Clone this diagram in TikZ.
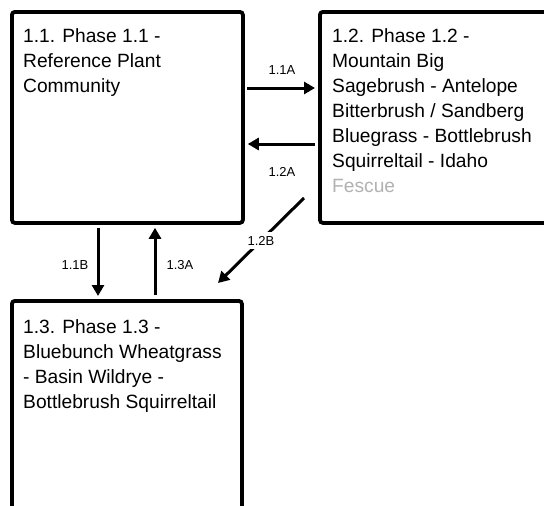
\documentclass[tikz,border=0pt]{standalone}
\usepackage{fontspec}
\setmainfont{Liberation Sans}
\usetikzlibrary{arrows.meta}
\begin{document}
\begin{tikzpicture}[x=1pt,y=-1pt,
  box/.style={draw=black, line width=3.8pt, rounded corners=3pt, inner sep=0, fill=white},
  txt/.style={anchor=north west, inner sep=0, align=left, font=\fontsize{19.2}{25}\selectfont},
  arr/.style={line width=3pt, -{Triangle[length=11pt,width=12pt]}, shorten >=3pt},
  lbl/.style={font=\fontsize{13}{15}\selectfont, inner sep=1pt}]
\clip (0,0) rectangle (544,506);
\fill[white] (0,0) rectangle (544,506);
% boxes
\node[box, minimum width=231pt, minimum height=211pt, anchor=north west] (b11) at (10,10) {};
\node[box, minimum width=260pt, minimum height=211pt, anchor=north west] (b12) at (318,10) {};
\node[box, minimum width=230pt, minimum height=230pt, anchor=north west] (b13) at (10,299) {};
% texts
\node[txt] (t11) at (23,28) {1.1. Phase 1.1 -\\Reference Plant\\Community};
\node[txt] (t12) at (332,28) {1.2. Phase 1.2 -\\Mountain Big\\Sagebrush - Antelope\\Bitterbrush / Sandberg\\Bluegrass - Bottlebrush\\Squirreltail - Idaho\\\textcolor{black!30}{Fescue}};
\node[txt] (t13) at (23,319) {1.3. Phase 1.3 -\\Bluebunch Wheatgrass\\- Basin Wildrye -\\Bottlebrush Squirreltail};
% connectors
\coordinate (a1s) at (247,88);
\coordinate (a2s) at (315,144);
\draw[arr] (a1s) -- (a1s -| b12.west);
\draw[arr] (a2s) -- (a2s -| b11.east);
\node[lbl] (l11a) at (282,70) {1.1A};
\node[lbl] (l12a) at (282,172) {1.2A};
\coordinate (c1) at (98,228);
\coordinate (c2) at (155,295);
\draw[arr] (c1) -- (c1 |- b13.north);
\draw[arr] (c2) -- (c2 |- b11.south);
\node[lbl] (l11b) at (75,265) {1.1B};
\node[lbl] (l13a) at (180,265) {1.3A};
\coordinate (d1) at (304,198);
\coordinate (d2) at (218,283);
\draw[arr, shorten >=0pt] (d1) -- node[lbl, fill=white, inner sep=4pt] (l12b) {1.2B} (d2);
\end{tikzpicture}
\end{document}
